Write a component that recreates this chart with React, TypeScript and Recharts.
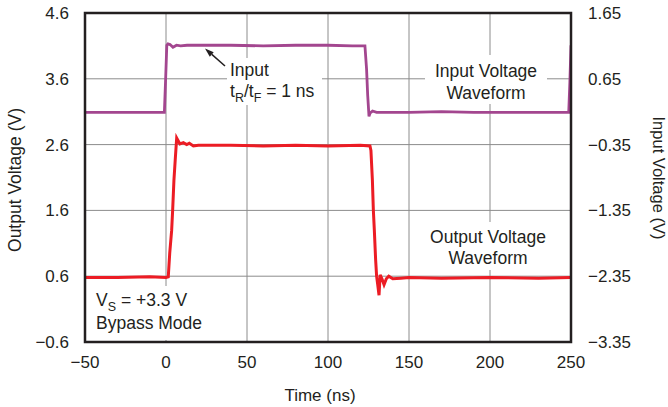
import { CartesianGrid, Line, LineChart, XAxis, YAxis } from 'recharts';

// time axis (ns) and tick labels
const xTicks = [-50, 0, 50, 100, 150, 200, 250];
const leftTicks = [-0.4, 0.6, 1.6, 2.6, 3.6, 4.6];
const leftTickLabels = ['−0.6', '0.6', '1.6', '2.6', '3.6', '4.6'];
const rightTicks = [-3.35, -2.35, -1.35, -0.35, 0.65, 1.65];
const rightTickLabels = ['−3.35', '−2.35', '−1.35', '−0.35', '0.65', '1.65'];

// input waveform (right axis, V)
const inputTime = [-50, -30, -10, -1, -0.3, 0.5, 1.2, 2.5, 4.3, 6.5, 9, 13, 20, 40, 60, 80, 100, 115, 122.8, 123.8, 124.5, 125.3, 126, 127.5, 130, 150, 170, 190, 210, 230, 248.6, 249.3, 250];
const inputVolts = [0.14, 0.14, 0.14, 0.14, 0.6, 1.16, 1.18, 1.17, 1.13, 1.16, 1.15, 1.16, 1.16, 1.16, 1.15, 1.16, 1.16, 1.15, 1.15, 0.8, 0.4, 0.08, 0.13, 0.16, 0.14, 0.14, 0.15, 0.14, 0.14, 0.14, 0.14, 0.6, 1.16];

// output waveform (left axis, V)
const outputTime = [-50, -30, -10, 0, 1.4, 2.3, 3.5, 4.1, 4.9, 5.7, 6.6, 7.5, 8.6, 10.7, 12.8, 14.4, 16.9, 20, 40, 60, 80, 100, 120, 125.9, 126.5, 127.4, 128, 128.6, 129.4, 130, 130.8, 131.5, 132.2, 133.3, 134.6, 136, 137.5, 140, 145, 150, 170, 200, 230, 250];
const outputVolts = [0.58, 0.58, 0.59, 0.58, 0.59, 0.95, 1.3, 1.6, 2.06, 2.37, 2.7, 2.66, 2.61, 2.63, 2.6, 2.62, 2.58, 2.59, 2.59, 2.58, 2.59, 2.58, 2.59, 2.58, 2.51, 2.06, 1.6, 1.3, 0.85, 0.6, 0.45, 0.31, 0.62, 0.56, 0.47, 0.56, 0.6, 0.56, 0.57, 0.58, 0.57, 0.58, 0.57, 0.58];

const inputData = inputTime.map((t, i) => ({ t, v: inputVolts[i] }));
const outputData = outputTime.map((t, i) => ({ t, v: outputVolts[i] }));

const FONT = '"Liberation Sans", Arial, Helvetica, sans-serif';
const TEXT = '#231f20';
const tickStyle = { fontSize: 17, fill: TEXT, fontFamily: FONT };

const fmtX = (v: number) => String(v).replace('-', '−');
const fmtLeft = (v: number) => leftTickLabels[leftTicks.indexOf(v)] ?? String(v);
const fmtRight = (v: number) => rightTickLabels[rightTicks.indexOf(v)] ?? String(v);

const Overlay = () => (
    <svg width={668} height={407} style={{ position: 'absolute', left: 0, top: 0, pointerEvents: 'none' }} fontFamily={FONT} fill={TEXT}>
        {/* label backgrounds */}
        <rect x={227} y={58} width={95} height={47} fill="#fff" />
        <rect x={425} y={55} width={122} height={49} fill="#fff" />
        <rect x={420} y={222} width={136} height={48} fill="#fff" />
        <rect x={87} y={286} width={125} height={54} fill="#fff" />

        {/* frame */}
        <rect x={85} y={13} width={486} height={329} fill="none" stroke={TEXT} strokeWidth={2.5} />

        <text x={230} y={76} fontSize={17.5}>Input</text>
        <text x={230} y={97} fontSize={17.5}>
            t<tspan fontSize={12.5} dy={5}>R</tspan>
            <tspan dy={-5}>/t</tspan>
            <tspan fontSize={12.5} dy={5}>F</tspan>
            <tspan dy={-5}> = 1 ns</tspan>
        </text>
        <line x1={225} y1={66} x2={211.8} y2={54.4} stroke={TEXT} strokeWidth={1.5} />
        <polygon points="205,48.5 213.7,52.2 209.8,56.7" fill={TEXT} />

        <text x={486} y={77} fontSize={17.5} textAnchor="middle">Input Voltage</text>
        <text x={486} y={98.5} fontSize={17.5} textAnchor="middle">Waveform</text>

        <text x={488} y={243} fontSize={17.5} textAnchor="middle">Output Voltage</text>
        <text x={488} y={264} fontSize={17.5} textAnchor="middle">Waveform</text>

        <text x={96} y={306} fontSize={17.5}>
            V<tspan fontSize={12.5} dy={5}>S</tspan>
            <tspan dy={-5}> = +3.3 V</tspan>
        </text>
        <text x={96} y={329} fontSize={17.5}>Bypass Mode</text>

        {/* axis titles */}
        <text x={320} y={401} fontSize={17} textAnchor="middle">Time (ns)</text>
        <text x={14.5} y={180} fontSize={17.5} textAnchor="middle" dominantBaseline="central" transform="rotate(-90 14.5 180)">
            Output Voltage (V)
        </text>
        <text x={659} y={178} fontSize={16.5} textAnchor="middle" dominantBaseline="central" transform="rotate(90 659 178)">
            Input Voltage (V)
        </text>
    </svg>
);

const App = () => {
    return (
        <div style={{ position: 'absolute', left: 0, top: 0, width: 668, height: 407, background: '#fff' }}>
            <LineChart width={668} height={407} margin={{ top: 13, right: 0, bottom: 0, left: 0 }}>
                <CartesianGrid yAxisId="left" stroke="#8c8c8c" strokeWidth={1} />
                <XAxis
                    type="number"
                    dataKey="t"
                    domain={[-50, 250]}
                    ticks={xTicks}
                    tickFormatter={fmtX}
                    axisLine={false}
                    tickLine={false}
                    tickSize={0}
                    tickMargin={14}
                    height={65}
                    tick={tickStyle}
                    allowDataOverflow
                />
                <YAxis
                    yAxisId="left"
                    type="number"
                    domain={[-0.4, 4.6]}
                    ticks={leftTicks}
                    tickFormatter={fmtLeft}
                    axisLine={false}
                    tickLine={false}
                    tickSize={0}
                    tickMargin={16}
                    width={85}
                    tick={tickStyle}
                    allowDataOverflow
                />
                <YAxis
                    yAxisId="right"
                    orientation="right"
                    type="number"
                    domain={[-3.35, 1.65]}
                    ticks={rightTicks}
                    tickFormatter={fmtRight}
                    axisLine={false}
                    tickLine={false}
                    tickSize={0}
                    tickMargin={17}
                    width={97}
                    tick={{ ...tickStyle, textAnchor: 'start' }}
                    allowDataOverflow
                />
                <Line
                    yAxisId="right"
                    data={inputData}
                    dataKey="v"
                    type="linear"
                    stroke="#a3468f"
                    strokeWidth={2.8}
                    dot={false}
                    isAnimationActive={false}
                />
                <Line
                    yAxisId="left"
                    data={outputData}
                    dataKey="v"
                    type="linear"
                    stroke="#ec1c24"
                    strokeWidth={3}
                    dot={false}
                    isAnimationActive={false}
                />
            </LineChart>
            <Overlay />
        </div>
    );
};

export default App;
